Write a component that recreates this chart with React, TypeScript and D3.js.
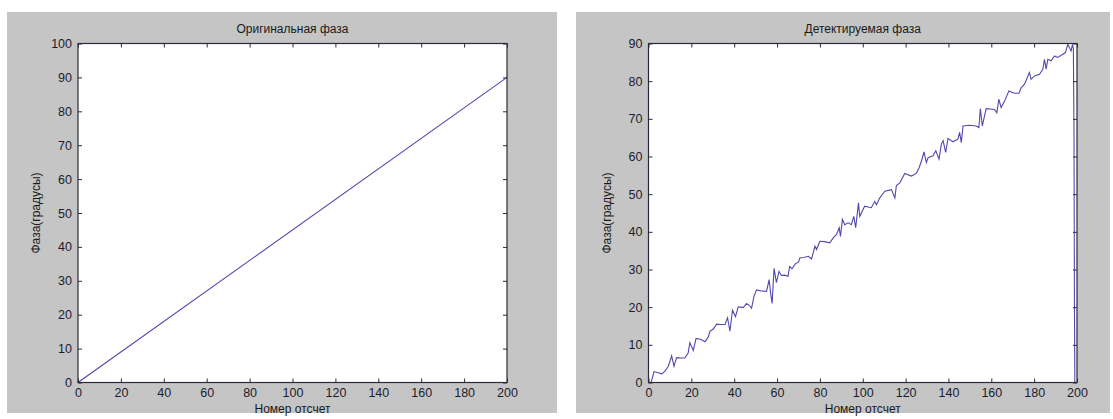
import React, { useRef, useEffect } from 'react';
import * as d3 from 'd3';

// original phase (straight line)
const origX = [0, 200];
const origY = [0, 90];

// detected phase
const detX = [
  0, 1.2, 2.6, 4.5, 6.2, 7.7, 9.3, 10.8, 11.9, 13.1, 15, 17, 18.5, 19.3, 20.9, 22.2, 24.3, 26.4, 27.9, 28.7,
  30.2, 31.8, 33.7, 35.7, 36.9, 38, 39.2, 40.6, 41.9, 43, 44.2, 45.8, 47, 48.1, 49.2, 50.4, 52.7, 55.1, 56.3,
  57.1, 57.7, 58.6, 59.7, 60.9, 62, 63.5, 65.1, 65.9, 67, 68.5, 70, 70.7, 72.5, 74.6, 76.1, 77.7, 78.4, 80,
  82.3, 84.6, 86.2, 87.8, 89, 89.6, 90.5, 91.6, 93.2, 94.7, 95.8, 96.7, 98, 98.6, 100.9, 102.5, 104, 105.6,
  106.4, 107.9, 110.3, 113.4, 115, 115.7, 117.3, 119.6, 122.7, 125, 126.3, 127.4, 128.6, 129.7, 130.5, 132.8,
  134.1, 135.6, 136.7, 137.5, 138.7, 139.8, 142.1, 144.4, 145.2, 146, 146.8, 149.9, 152.9, 154.2, 154.9,
  155.8, 157.6, 159.5, 161.5, 162.6, 163.5, 164.6, 166.2, 168.2, 170.8, 172.9, 174, 175.5, 177.8, 178.6,
  180.2, 182.5, 184.1, 184.8, 185.6, 186.4, 187.9, 189.5, 191, 193, 194.6, 195.7, 196.5, 197.2, 197.9, 198.3,
  198.6, 198.8, 199,
];
const detY = [
  0, 0, 2.9, 2.6, 2.3, 3, 4.4, 7.1, 4.3, 6.6, 6.5, 6.5, 7.8, 10.6, 8.5, 11.7, 11.5, 10.8, 12.1, 13.6, 14.2,
  15.5, 15.4, 15.4, 17.2, 13.6, 19.2, 17.5, 20.1, 20, 19.9, 21, 20.5, 19.7, 22.8, 24.6, 24.3, 24.2, 27.3,
  23.3, 21, 30.3, 26.5, 29.5, 28.4, 28.5, 28.2, 30.8, 30.2, 31.5, 32, 33.1, 33.2, 33.5, 32.8, 36.2, 35.3,
  37.5, 37.4, 37.1, 38.4, 39.3, 41.1, 38.8, 43.3, 41.9, 42.4, 41.9, 44.1, 41.1, 47.7, 44.1, 46.8, 46.6, 46.4,
  48.1, 47.2, 49, 50.8, 51.2, 49, 52.3, 53, 55.5, 54.8, 55.5, 57, 58.8, 61.2, 58.4, 59.7, 60.2, 61.5, 59.3,
  63.3, 64.2, 61.1, 64.8, 63.9, 64.6, 66.4, 63.7, 68.1, 68.3, 68.1, 67.7, 72.7, 68.1, 72.7, 72.6, 72.5,
  71.6, 75.2, 73, 74.7, 77.4, 76.8, 76.8, 78.3, 79.2, 82.3, 80.5, 81.4, 81.8, 83.2, 85.8, 83.2, 85.8, 85.4,
  86.7, 86.3, 87, 87.6, 89.8, 88.9, 88, 89.8, 88.5, 67, 21, 0,
];

const xTicks = [0, 20, 40, 60, 80, 100, 120, 140, 160, 180, 200];
const leftYTicks = [0, 10, 20, 30, 40, 50, 60, 70, 80, 90, 100];
const rightYTicks = [0, 10, 20, 30, 40, 50, 60, 70, 80, 90];

const titles = ['Оригинальная фаза', 'Детектируемая фаза'];
const xLabel = 'Номер отсчет';
const yLabel = 'Фаза(градусы)';

const W = 1113;
const H = 419;
const lineColor = '#5048ad';
const axisColor = '#2b2b3a';
const font = '"Liberation Sans", Arial, sans-serif';

const App = () => {
  const svgRef = useRef(null);

  useEffect(() => {
    const svg = d3.select(svgRef.current);
    svg.selectAll('*').remove();

    const panels = [
      { gx: 7, gw: 550, left: 78, right: 507, yMax: 100, yTicks: leftYTicks, xs: origX, ys: origY, title: titles[0] },
      { gx: 576, gw: 534, left: 648.5, right: 1077, yMax: 90, yTicks: rightYTicks, xs: detX, ys: detY, title: titles[1] },
    ];
    const top = 43.5;
    const bottom = 382.5;

    panels.forEach((p, idx) => {
      svg.append('rect')
        .attr('x', p.gx).attr('y', 12)
        .attr('width', p.gw).attr('height', 401)
        .attr('fill', '#c4c5c4');

      const x = d3.scaleLinear().domain([0, 200]).range([p.left, p.right]);
      const y = d3.scaleLinear().domain([0, p.yMax]).range([bottom, top]);

      svg.append('rect')
        .attr('x', p.left).attr('y', top)
        .attr('width', p.right - p.left).attr('height', bottom - top)
        .attr('fill', '#ffffff');

      const clipId = 'clip' + idx;
      svg.append('clipPath').attr('id', clipId)
        .append('rect')
        .attr('x', p.left).attr('y', top - 1)
        .attr('width', p.right - p.left + 1).attr('height', bottom - top + 2);

      const data = p.xs.map((d, i) => [d, p.ys[i]] as [number, number]);
      const line = d3.line<[number, number]>()
        .x(d => x(d[0]))
        .y(d => y(d[1]));

      svg.append('path')
        .attr('d', line(data))
        .attr('clip-path', `url(#${clipId})`)
        .attr('fill', 'none')
        .attr('stroke', lineColor)
        .attr('stroke-width', 1.1);

      // axes, ticks pointing inward like matlab
      const styleAxis = (g, labels) => {
        g.select('.domain').remove();
        g.selectAll('line').attr('stroke', axisColor);
        g.selectAll('text')
          .attr('fill', '#1c1c30')
          .style('font-family', font)
          .style('font-size', '12.5px');
        if (!labels) g.selectAll('text').remove();
      };

      svg.append('g')
        .attr('transform', `translate(0,${bottom})`)
        .call(d3.axisBottom(x).tickValues(xTicks).tickSizeInner(-4).tickSizeOuter(0).tickPadding(6).tickFormat(d3.format('d')))
        .call(g => styleAxis(g, true));

      svg.append('g')
        .attr('transform', `translate(0,${top})`)
        .call(d3.axisTop(x).tickValues(xTicks).tickSizeInner(-4).tickSizeOuter(0))
        .call(g => styleAxis(g, false));

      svg.append('g')
        .attr('transform', `translate(${p.left},0)`)
        .call(d3.axisLeft(y).tickValues(p.yTicks).tickSizeInner(-4).tickSizeOuter(0).tickPadding(6).tickFormat(d3.format('d')))
        .call(g => styleAxis(g, true));

      svg.append('g')
        .attr('transform', `translate(${p.right},0)`)
        .call(d3.axisRight(y).tickValues(p.yTicks).tickSizeInner(-4).tickSizeOuter(0))
        .call(g => styleAxis(g, false));

      svg.append('rect')
        .attr('x', p.left).attr('y', top)
        .attr('width', p.right - p.left).attr('height', bottom - top)
        .attr('fill', 'none')
        .attr('stroke', axisColor)
        .attr('stroke-width', 1.2);

      const cx = (p.left + p.right) / 2;
      svg.append('text')
        .attr('x', cx).attr('y', 33)
        .attr('text-anchor', 'middle')
        .attr('fill', '#1a1a1a')
        .style('font-family', font)
        .style('font-size', '12px')
        .text(p.title);

      svg.append('text')
        .attr('x', cx).attr('y', 413)
        .attr('text-anchor', 'middle')
        .attr('fill', '#1a1a1a')
        .style('font-family', font)
        .style('font-size', '12px')
        .text(xLabel);

      svg.append('text')
        .attr('transform', `translate(${p.left - 38},${(top + bottom) / 2}) rotate(-90)`)
        .attr('text-anchor', 'middle')
        .attr('fill', '#1a1a1a')
        .style('font-family', font)
        .style('font-size', '12px')
        .text(yLabel);
    });
  }, []);

  return (
    <svg
      ref={svgRef}
      width={W}
      height={H}
      style={{ position: 'absolute', left: 0, top: 0, background: '#ffffff' }}
    />
  );
};

export default App;
